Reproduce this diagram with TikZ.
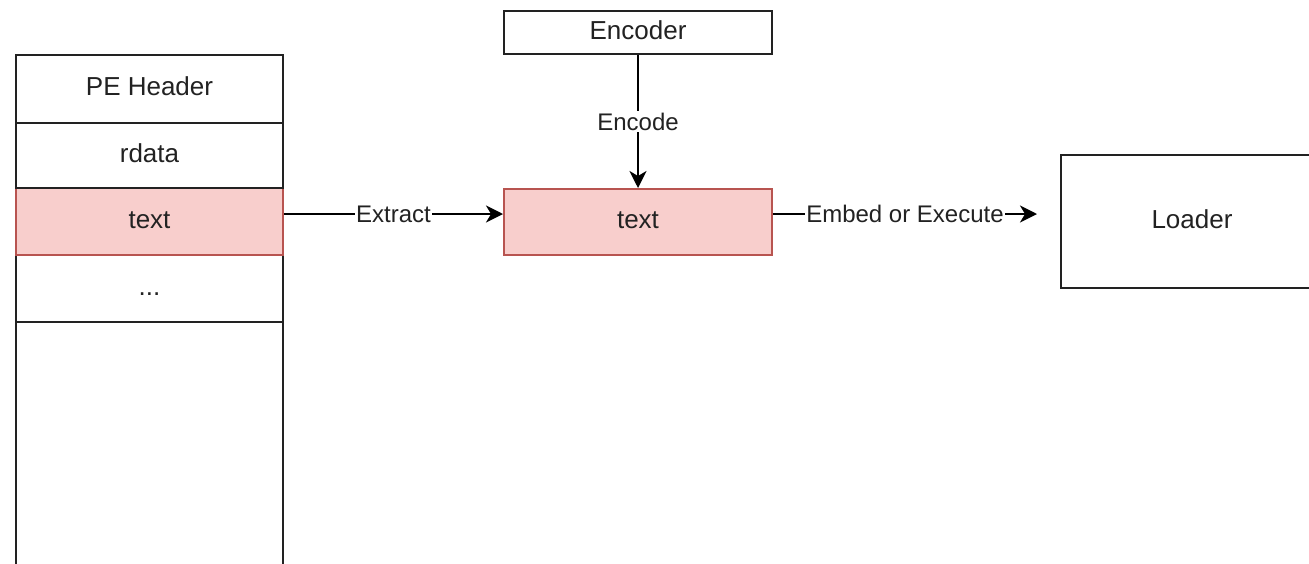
\documentclass[tikz,border=0pt]{standalone}
\usepackage{fontspec}
\setmainfont{Liberation Sans}
\usetikzlibrary{arrows.meta,positioning}
\definecolor{redfill}{HTML}{F8CECC}
\definecolor{redline}{HTML}{B85450}
\definecolor{ink}{HTML}{222222}
\tikzset{
  cell/.style={draw=ink, line width=2pt, fill=white, minimum width=267pt, inner sep=0pt, text=ink, text height=18.6pt, text depth=5.5pt, font=\fontsize{26}{31}\selectfont},
  hot/.style={fill=redfill, draw=redline},
  conn/.style={line width=2pt, draw=black, -{Stealth[length=17pt,width=17pt,inset=5pt]}},
  lbl/.style={fill=white, inner sep=1.5pt, text=ink, font=\fontsize{24}{28}\selectfont}
}
\begin{document}
\begin{tikzpicture}[x=1pt,y=1pt]
\useasboundingbox (0,0) rectangle (1309,-563);
% left stack
\node[cell, minimum height=278pt] (rest) at (149.5,-461) {};
\node[cell, minimum height=67pt] (dots) at (149.5,-288.5) {...};
\node[cell, hot, minimum height=67pt] (txtL) at (149.5,-221.5) {text};
\node[cell, minimum height=65pt] (rdata) at (149.5,-155.5) {rdata};
\node[cell, minimum height=68pt] (pe) at (149.5,-89) {PE Header};
% middle
\node[cell, minimum width=268pt, minimum height=43pt] (enc) at (638,-32.5) {Encoder};
\node[cell, hot, minimum width=268pt, minimum height=66pt] (txtM) at (638,-222) {text};
% loader
\node[cell, minimum width=262pt, minimum height=133pt] (loader) at (1192,-221.5) {Loader};
\coordinate (tip) at (1037,-214);
% connectors
\draw[conn] (enc.south) -- node[lbl] {Encode} (txtM.north);
\draw[conn] ([yshift=7.5pt]txtL.east) -- node[lbl] {Extract} ([yshift=8pt]txtM.west);
\draw[conn] ([yshift=8pt]txtM.east) -- node[lbl] {Embed or Execute} (tip);
\end{tikzpicture}
\end{document}
